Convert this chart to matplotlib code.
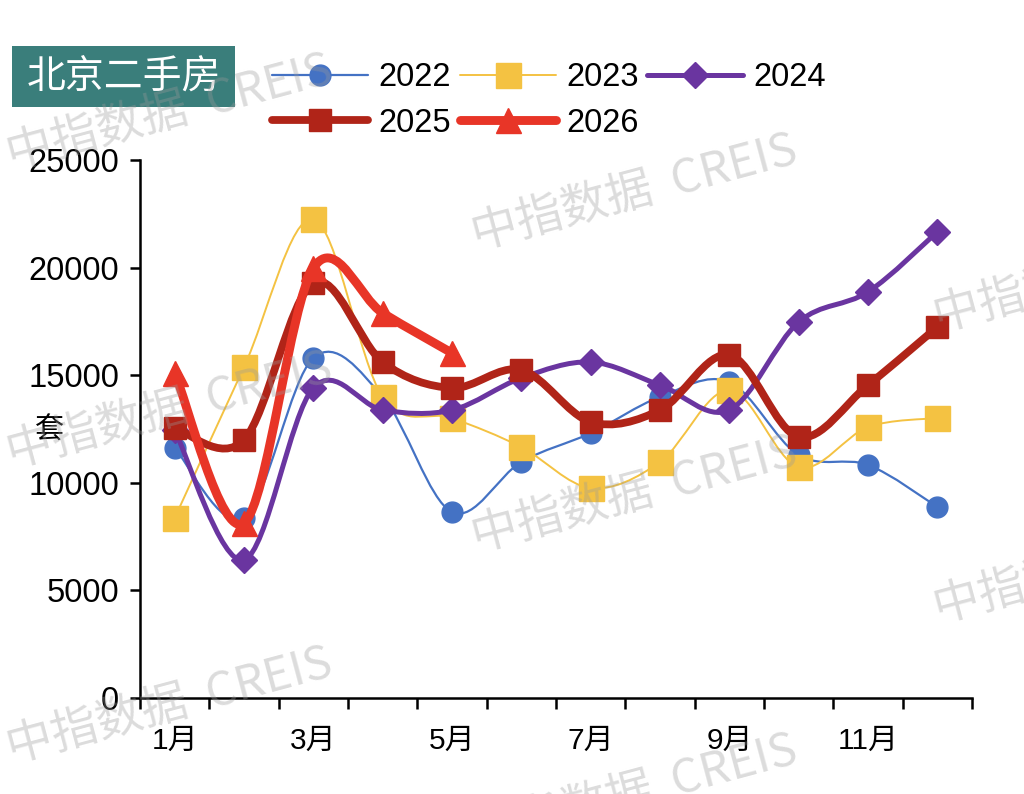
import matplotlib
matplotlib.use("Agg")
import matplotlib.pyplot as plt
import numpy as np
from matplotlib.path import Path
from matplotlib.patches import PathPatch, Rectangle
from matplotlib.lines import Line2D

# data (units: 套)
months = np.arange(1, 13)
month_labels = ["1月", "3月", "5月", "7月", "9月", "11月"]
v2022 = [11620, 8360, 15800, 14000, 8640, 10970, 12310, 13990, 14680, 11290, 10830, 8880]
v2023 = [8360, 15380, 22260, 13990, 13010, 11660, 9760, 10970, 14310, 10730, 12590, 13010]
v2024 = [12450, 6410, 14410, 13380, 13380, 14870, 15610, 14540, 13380, 17470, 18870, 21660]
v2025 = [12550, 11990, 19290, 15610, 14410, 15240, 12830, 13380, 15940, 12130, 14540, 17240]
v2026 = [15100, 8130, 19980, 17890, 16030]

series = [
    ("2022", v2022, "#4472C4", 1.6, "o", 15),
    ("2023", v2023, "#F4C242", 1.4, "s", 18),
    ("2024", v2024, "#6A35A0", 3.6, "D", 13),
    ("2025", v2025, "#B02418", 5.6, "s", 16),
    ("2026", v2026, "#E83527", 6.4, "^", 18),
]

cjk = ["Liberation Sans", "Noto Sans CJK SC"]
plt.rcParams['font.family'] = cjk


def smooth_path(xs, ys):
    # excel-like smoothed line: catmull-rom segments as cubic beziers
    n = len(xs)
    verts = [(xs[0], ys[0])]
    codes = [Path.MOVETO]
    for i in range(n - 1):
        a = i - 1 if i > 0 else i
        d = i + 2 if i + 2 < n else i + 1
        c1 = (xs[i] + (xs[i + 1] - xs[a]) / 6, ys[i] + (ys[i + 1] - ys[a]) / 6)
        c2 = (xs[i + 1] - (xs[d] - xs[i]) / 6, ys[i + 1] - (ys[d] - ys[i]) / 6)
        verts += [c1, c2, (xs[i + 1], ys[i + 1])]
        codes += [Path.CURVE4] * 3
    return Path(verts, codes)


fig = plt.figure(figsize=(10.24, 7.94), dpi=100)
ax = fig.add_axes([140 / 1024, 96 / 794, 832 / 1024, 538 / 794])

handles = []
for k, (name, vals, col, lw, mk, ms) in enumerate(series):
    x = months[:len(vals)]
    z = 2 + k
    ax.add_patch(PathPatch(smooth_path(x, vals), fill=False, edgecolor=col, lw=lw,
                           capstyle="round", joinstyle="round", zorder=z))
    ax.plot(x, vals, linestyle="none", marker=mk, markersize=ms, color=col,
            markeredgecolor=col, zorder=z + 0.5)
    handles.append(Line2D([], [], color=col, lw=lw, marker=mk, markersize=ms,
                          solid_capstyle="round"))

ax.set_xlim(0.5, 12.5)
ax.set_ylim(0, 25000)
ax.set_yticks(np.arange(0, 25001, 5000))
ax.set_xticks(np.arange(0.5, 12.6, 1))
ax.set_xticklabels([])
ax.set_xticks([1, 3, 5, 7, 9, 11], minor=True)
ax.set_xticklabels(month_labels, minor=True)
ax.tick_params(axis="x", which="major", direction="out", length=8, width=1.8)
ax.tick_params(axis="x", which="minor", length=0, pad=21, labelsize=21.5)
ax.tick_params(axis="y", direction="out", length=7, width=1.8, pad=8, labelsize=23.5)
for s in ["top", "right"]:
    ax.spines[s].set_visible(False)
for s in ["left", "bottom"]:
    ax.spines[s].set_linewidth(1.8)

fig.text(50 / 1024, 1 - 431 / 794, "套", fontsize=21, ha="center", va="center")

# title box
fig.patches.append(Rectangle((12 / 1024, 1 - 107 / 794), 223 / 1024, 61 / 794,
                             transform=fig.transFigure, facecolor="#3A7E7B",
                             edgecolor="none"))
fig.text(124 / 1024, 1 - 77 / 794, "北京二手房", fontsize=28, color="white",
         ha="center", va="center")

# legend, row-major order
order = [0, 3, 1, 4, 2]
names = [series[i][0] for i in range(5)]
fig.legend([handles[i] for i in order], [names[i] for i in order], ncol=3,
           loc="upper left", bbox_to_anchor=(272 / 1024, 1 - 62 / 794),
           frameon=False, fontsize=23.5, handlelength=2.95, handletextpad=0.32,
           columnspacing=0.25, labelspacing=0.45, borderpad=0, borderaxespad=0)

# watermarks
wm = [(8, 156), (8, 454), (8, 749), (473, 236), (473, 538), (473, 836),
      (935, 318), (935, 609)]
for px, py in wm:
    fig.text(px / 1024, 1 - py / 794, "中指数据  CREIS", fontsize=33.5,
             fontweight="medium", color="#9a9a9a", alpha=0.35, rotation=15,
             ha="left", va="center", rotation_mode="anchor",
             family=["Noto Sans CJK SC"], zorder=20)

fig.savefig("out.png", dpi=100)
